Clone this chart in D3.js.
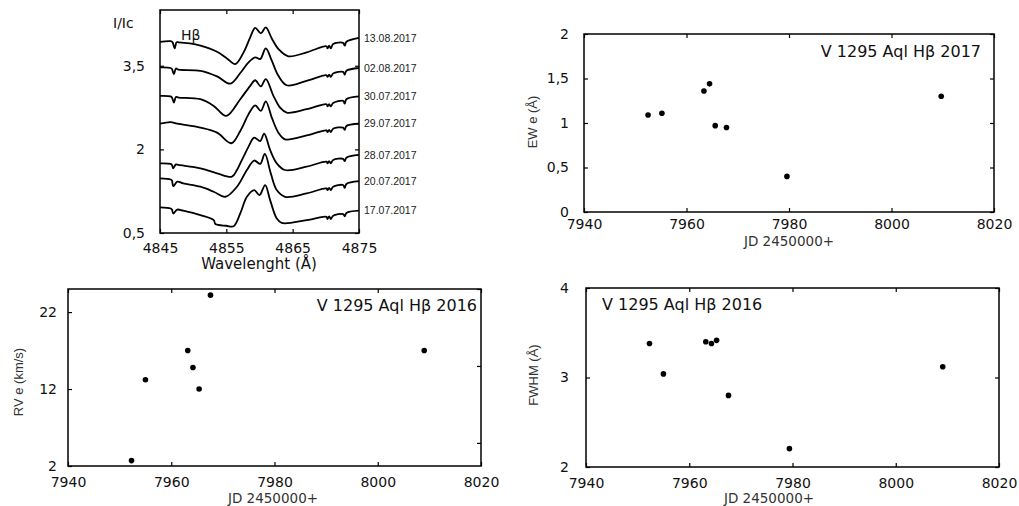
<!DOCTYPE html>
<html>
<head>
<meta charset="utf-8">
<title>V 1295 Aql Hβ</title>
<script src="https://cdn.jsdelivr.net/npm/d3@7"></script>
<style>
  body { margin: 0; background: #fff; }
  text { font-family: "DejaVu Sans", sans-serif; fill: #111; }
  .frame { fill: none; stroke: #000; stroke-width: 1.5px; }
  .tk text { font-size: 14px; }
  .tk line { stroke: #000; stroke-width: 1.2px; }
  .spec { fill: none; stroke: #000; stroke-width: 1.8px; stroke-linejoin: round; }
  .date { font-family: "Liberation Sans", Arial, sans-serif; font-size: 10.5px; fill: #222; }
  .ytitle { font-family: "Liberation Sans Narrow", "Liberation Sans", sans-serif; font-size: 13px; fill: #333; }
  .xtitle { font-size: 13.5px; fill: #333; }
  .title { font-size: 16px; }
</style>
</head>
<body>
<svg id="chart" width="1019" height="506"></svg>
<script>
// ---- spectra (wavelength in Å, I/Ic) ----
var spec_13_08 = [[4845.0,3.93],[4846.6,3.94],[4846.9,3.92],[4847.2,3.81],[4847.5,3.92],[4847.8,3.92],[4849.5,3.90],[4851.1,3.86],[4853.6,3.75],[4855.1,3.63],[4856.35,3.53],[4857.6,3.74],[4858.6,4.01],[4859.35,4.18],[4860.2,4.08],[4860.95,4.19],[4861.85,3.99],[4862.85,3.80],[4864.35,3.67],[4867.1,3.74],[4870.1,3.85],[4870.25,3.81],[4870.5,3.86],[4870.75,3.81],[4871.1,3.89],[4872.6,3.91],[4872.85,3.86],[4873.1,3.93],[4875.0,4.00]];
var spec_02_08 = [[4845.0,3.47],[4846.6,3.46],[4846.8,3.44],[4847.1,3.35],[4847.4,3.45],[4847.8,3.43],[4851.1,3.41],[4853.6,3.31],[4855.6,3.18],[4857.1,3.37],[4858.35,3.56],[4859.35,3.65],[4860.1,3.62],[4860.95,3.81],[4861.85,3.59],[4862.85,3.32],[4864.1,3.15],[4867.1,3.23],[4870.1,3.33],[4870.25,3.30],[4870.5,3.34],[4870.75,3.30],[4871.1,3.36],[4872.6,3.39],[4872.85,3.34],[4873.1,3.41],[4875.0,3.46]];
var spec_30_07 = [[4845.0,2.96],[4846.6,2.95],[4846.8,2.93],[4847.1,2.84],[4847.4,2.94],[4847.8,2.93],[4851.1,2.90],[4853.1,2.78],[4855.0,2.60],[4857.1,2.90],[4858.6,3.14],[4859.35,3.24],[4860.2,3.13],[4860.95,3.26],[4862.1,2.96],[4863.1,2.75],[4864.1,2.66],[4867.1,2.72],[4870.1,2.81],[4870.25,2.77],[4870.5,2.81],[4870.75,2.77],[4871.1,2.83],[4872.6,2.87],[4872.85,2.82],[4873.1,2.90],[4875.0,2.95]];
var spec_29_07 = [[4845.0,2.46],[4846.6,2.49],[4847.6,2.46],[4851.1,2.39],[4853.6,2.30],[4855.75,2.11],[4857.1,2.33],[4858.35,2.63],[4859.35,2.79],[4860.2,2.69],[4860.95,2.86],[4861.85,2.57],[4862.85,2.30],[4863.85,2.18],[4867.1,2.25],[4870.1,2.34],[4870.25,2.31],[4870.5,2.35],[4870.75,2.31],[4871.1,2.37],[4872.6,2.39],[4872.85,2.35],[4873.1,2.42],[4875.0,2.46]];
var spec_28_07 = [[4845.0,1.75],[4846.6,1.74],[4846.8,1.72],[4847.0,1.66],[4847.4,1.73],[4847.8,1.72],[4851.1,1.66],[4853.6,1.57],[4855.85,1.51],[4856.6,1.63],[4857.1,1.75],[4857.6,1.87],[4858.35,2.05],[4859.2,2.21],[4860.1,2.15],[4860.7,2.28],[4861.6,1.99],[4862.6,1.75],[4863.85,1.63],[4867.1,1.69],[4870.1,1.78],[4870.25,1.75],[4870.5,1.79],[4870.75,1.75],[4871.1,1.81],[4872.6,1.83],[4872.85,1.79],[4873.1,1.85],[4875.0,1.90]];
var spec_20_07 = [[4845.0,1.48],[4846.6,1.46],[4846.8,1.44],[4847.0,1.34],[4847.6,1.42],[4848.5,1.39],[4851.1,1.33],[4853.1,1.24],[4854.85,1.15],[4856.6,1.33],[4858.1,1.63],[4859.2,1.80],[4860.1,1.74],[4860.8,1.92],[4861.7,1.57],[4862.6,1.27],[4863.85,1.15],[4867.1,1.21],[4870.1,1.30],[4870.25,1.27],[4870.5,1.31],[4870.75,1.27],[4871.1,1.33],[4872.6,1.36],[4872.85,1.31],[4873.1,1.38],[4875.0,1.43]];
var spec_17_07 = [[4845.0,0.96],[4846.6,0.94],[4846.8,0.92],[4847.0,0.85],[4847.6,0.92],[4848.5,0.90],[4851.1,0.82],[4853.1,0.73],[4853.35,0.66],[4855.0,0.63],[4856.1,0.62],[4857.1,0.85],[4858.1,1.15],[4859.2,1.27],[4860.0,1.18],[4860.85,1.36],[4861.6,1.09],[4862.6,0.76],[4863.35,0.68],[4867.1,0.73],[4870.1,0.79],[4870.25,0.75],[4870.5,0.80],[4870.75,0.75],[4871.1,0.81],[4872.6,0.84],[4872.85,0.80],[4873.1,0.86],[4875.0,0.90]];
var spectra = [spec_13_08, spec_02_08, spec_30_07, spec_29_07, spec_28_07, spec_20_07, spec_17_07];
var specDates = ["13.08.2017", "02.08.2017", "30.07.2017", "29.07.2017", "28.07.2017", "20.07.2017", "17.07.2017"];
var wlTicks = [4845, 4855, 4865, 4875];
var iTicks = [0.5, 2, 3.5];

// ---- time series (JD 2450000+) ----
var ewJD  = [7952.5, 7955.2, 7963.4, 7964.5, 7965.6, 7967.8, 7979.6, 8009.7];
var ewVal = [1.09, 1.11, 1.36, 1.44, 0.97, 0.95, 0.40, 1.30];
var rvJD  = [7952.3, 7955.0, 7963.2, 7964.2, 7965.4, 7967.6, 8009.0];
var rvVal = [2.7, 13.2, 17.0, 14.8, 12.0, 24.2, 17.0];
var fwJD  = [7952.3, 7955.0, 7963.2, 7964.3, 7965.3, 7967.6, 7979.4, 8009.1];
var fwVal = [3.38, 3.04, 3.40, 3.38, 3.415, 2.80, 2.205, 3.12];
var jdTicks = [7940, 7960, 7980, 8000, 8020];
var ewTicks = [0, 0.5, 1, 1.5, 2];
var rvTicks = [2, 12, 22];
var rvRightTicks = [5, 15, 25];
var fwTicks = [2, 3, 4];

var svg = d3.select("#chart");
svg.append("rect").attr("width", 1019).attr("height", 506).attr("fill", "#fff");

function comma(d) { return String(d).replace(".", ","); }

// draws the frame with inward ticks on all four sides
function framePanel(box, x, y, o) {
  var g = svg.append("g");
  g.append("g").attr("class", "tk").attr("transform", "translate(0," + box.y1 + ")")
    .call(d3.axisBottom(x).tickValues(o.xTicks).tickSize(-4).tickPadding(o.xPad).tickFormat(comma))
    .call(function(a) { a.select(".domain").remove(); });
  g.append("g").attr("class", "tk").attr("transform", "translate(0," + box.y0 + ")")
    .call(d3.axisTop(x).tickValues(o.xTicks).tickSize(-4).tickFormat(""))
    .call(function(a) { a.select(".domain").remove(); });
  g.append("g").attr("class", "tk").attr("transform", "translate(" + box.x0 + ",0)")
    .call(d3.axisLeft(y).tickValues(o.yTicks).tickSize(-4).tickPadding(o.yPad).tickFormat(comma))
    .call(function(a) { a.select(".domain").remove(); });
  g.append("g").attr("class", "tk").attr("transform", "translate(" + box.x1 + ",0)")
    .call(d3.axisRight(y).tickValues(o.rightTicks || o.yTicks).tickSize(-4).tickFormat(""))
    .call(function(a) { a.select(".domain").remove(); });
  g.append("rect").attr("class", "frame")
    .attr("x", box.x0).attr("y", box.y0)
    .attr("width", box.x1 - box.x0).attr("height", box.y1 - box.y0);
  return g;
}

// ---- spectra panel ----
var sBox = {x0: 160, x1: 359, y0: 10, y1: 233};
var sx = d3.scaleLinear().domain([4845, 4875]).range([sBox.x0, sBox.x1]);
var sy = d3.scaleLinear().domain([0.5, 4.5]).range([sBox.y1, sBox.y0]);
var line = d3.line().curve(d3.curveCatmullRom.alpha(0.5))
  .x(function(d) { return sx(d[0]); }).y(function(d) { return sy(d[1]); });
svg.append("g").selectAll("path").data(spectra).enter().append("path")
  .attr("class", "spec").attr("d", line);
framePanel(sBox, sx, sy, {xTicks: wlTicks, yTicks: iTicks, xPad: 10, yPad: 15});
svg.append("g").selectAll("text").data(spectra).enter().append("text")
  .attr("class", "date")
  .attr("x", sBox.x1 + 5)
  .attr("y", function(d) { return sy(d[d.length - 1][1]); })
  .attr("dy", "0.35em")
  .text(function(d, i) { return specDates[i]; });
svg.append("text").attr("x", 113).attr("y", 28).style("font-size", "14px").text("I/Ic");
svg.append("text").attr("x", 181).attr("y", 40).style("font-size", "14px").text("Hβ");
svg.append("text").attr("x", 259).attr("y", 269).attr("text-anchor", "middle")
  .style("font-size", "15px").text("Wavelenght (Å)");

// ---- scatter panels ----
function scatter(box, xs, ys, yDom, o) {
  var x = d3.scaleLinear().domain([7940, 8020]).range([box.x0, box.x1]);
  var y = d3.scaleLinear().domain(yDom).range([box.y1, box.y0]);
  framePanel(box, x, y, {xTicks: jdTicks, yTicks: o.yTicks, rightTicks: o.rightTicks, xPad: o.xPad, yPad: o.yPad});
  svg.append("g").selectAll("circle").data(xs).enter().append("circle")
    .attr("cx", function(d) { return x(d); })
    .attr("cy", function(d, i) { return y(ys[i]); })
    .attr("r", 2.8).attr("fill", "#000");
  svg.append("text").attr("class", "xtitle").attr("x", o.jdX).attr("y", o.jdY)
    .attr("text-anchor", "middle").text("JD 2450000+");
  svg.append("text").attr("class", "ytitle")
    .attr("transform", "translate(" + o.yLabX + "," + o.yLabY + ") rotate(-90)")
    .attr("text-anchor", "middle").attr("dy", "0.35em").text(o.yLabel);
  svg.append("text").attr("class", "title")
    .attr("x", o.tX).attr("y", o.tY).attr("text-anchor", o.tAnchor).text(o.title);
}

scatter({x0: 584, x1: 994, y0: 34, y1: 212}, ewJD, ewVal, [0, 2],
  {yTicks: ewTicks, xPad: 7, yPad: 15, jdX: 789, jdY: 246, yLabX: 532, yLabY: 122, yLabel: "EW e (Å)",
   tX: 981, tY: 57, tAnchor: "end", title: "V 1295 Aql Hβ 2017"});
scatter({x0: 68, x1: 481, y0: 289, y1: 466}, rvJD, rvVal, [2, 25],
  {yTicks: rvTicks, rightTicks: rvRightTicks, xPad: 11, yPad: 11, jdX: 273, jdY: 503, yLabX: 18, yLabY: 382, yLabel: "RV e (km/s)",
   tX: 477, tY: 311, tAnchor: "end", title: "V 1295 Aql Hβ 2016"});
scatter({x0: 586, x1: 999, y0: 288, y1: 467}, fwJD, fwVal, [2, 4],
  {yTicks: fwTicks, xPad: 11, yPad: 17, jdX: 769, jdY: 503, yLabX: 533, yLabY: 375, yLabel: "FWHM (Å)",
   tX: 602, tY: 310, tAnchor: "start", title: "V 1295 Aql Hβ 2016"});
</script>
</body>
</html>
